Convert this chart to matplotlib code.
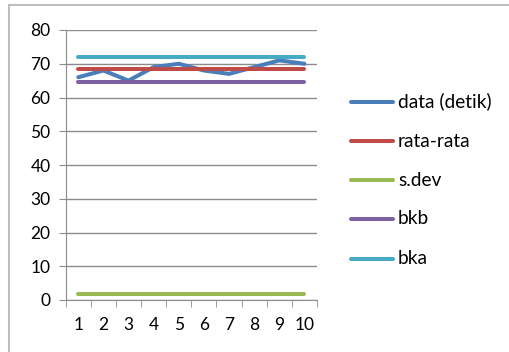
import matplotlib
matplotlib.use("Agg")
import matplotlib.pyplot as plt
from matplotlib.lines import Line2D

plt.rcParams['font.family'] = ['Lato', 'DejaVu Sans']

x = [1, 2, 3, 4, 5, 6, 7, 8, 9, 10]
data_detik = [66, 68, 65, 69, 70, 68, 67, 69, 71, 70]
rata_rata = [68.3] * 10
s_dev = [1.89] * 10
bkb = [64.52] * 10
bka = [72.08] * 10

series = [
    ("data (detik)", data_detik, "#4A7EBB"),
    ("rata-rata", rata_rata, "#BE4B48"),
    ("s.dev", s_dev, "#98B954"),
    ("bkb", bkb, "#7D60A0"),
    ("bka", bka, "#46AAC5"),
]

W, H = 509, 352
fig = plt.figure(figsize=(W / 100, H / 100), dpi=100)
fig.patch.set_facecolor("white")

# chart-area border (top and left edges)
fig.add_artist(Line2D([9 / W, 1.0], [1 - 5 / H, 1 - 5 / H], color="#BDBDBD", lw=1.5))
fig.add_artist(Line2D([9 / W, 9 / W], [0, 1 - 5 / H], color="#BDBDBD", lw=1.5))

ax = fig.add_axes([65.7 / W, 1 - 300 / H, (317 - 65.7) / W, 270 / H])
for name, vals, col in series:
    ax.plot(x, vals, color=col, lw=2.9, solid_capstyle="round", label=name)

ax.set_xlim(0.5, 10.5)
ax.set_ylim(0, 80)
ax.set_yticks(range(0, 81, 10))
ax.set_xticks(x)
ax.set_xticks([i + 0.5 for i in range(0, 11)], minor=True)
ax.grid(axis="y", color="#8C8C8C", lw=1)
ax.set_axisbelow(True)
for s in ("top", "right"):
    ax.spines[s].set_visible(False)
for s in ("left", "bottom"):
    ax.spines[s].set_color("#8C8C8C")
ax.tick_params(axis="y", length=5, color="#8C8C8C", labelsize=12.5, pad=6)
ax.tick_params(axis="x", which="major", length=0, labelsize=12.5, pad=12)
ax.tick_params(axis="x", which="minor", length=5, color="#8C8C8C")

# legend on the right
rows = [101.7, 141, 180, 219, 259]
for (name, vals, col), yy in zip(series, rows):
    fig.add_artist(Line2D([351 / W, 393 / W], [1 - yy / H] * 2, color=col, lw=2.9,
                          solid_capstyle="round"))
    fig.text(398 / W, 1 - yy / H, name, fontsize=13.8, va="center", ha="left")

fig.savefig("out.png", dpi=100)
